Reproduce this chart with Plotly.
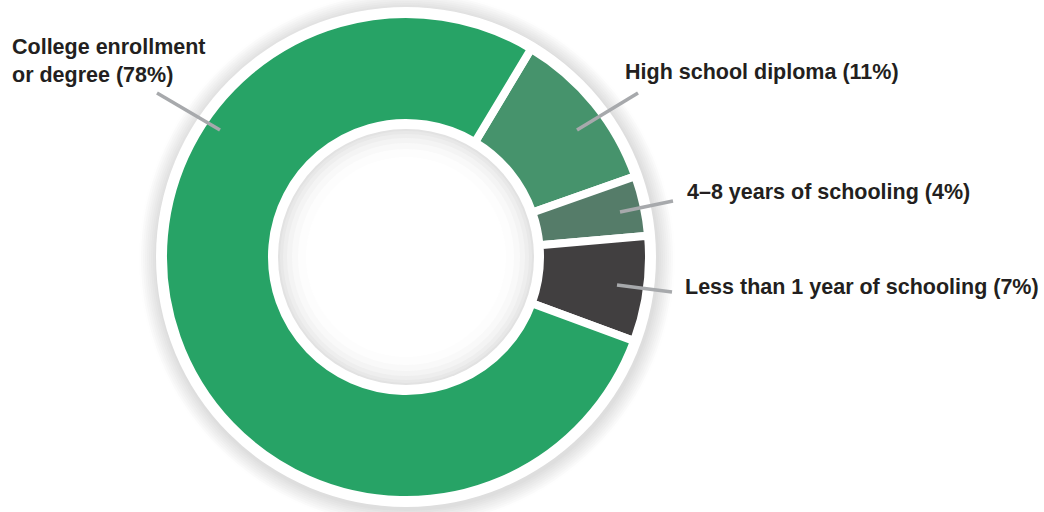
import plotly.graph_objects as go

W, H = 1044, 512

# ---- data ----
categories = ["High school diploma", "4\u20138 years of schooling",
              "Less than 1 year of schooling", "College enrollment or degree"]
values = [11, 4, 7, 78]
colors = ["#46936C", "#557C69", "#413F40", "#27A366"]
label_text = ["High school diploma (11%)", "4\u20138 years of schooling (4%)",
              "Less than 1 year of schooling (7%)", "College enrollment<br>or degree (78%)"]

# ---- layout helpers (pixel geometry) ----
CX, CY = 406, 257


def dom(r):
    return dict(x=[(CX - r) / W, (CX + r) / W],
                y=[1 - (CY + r) / H, 1 - (CY - r) / H])


def px(x, y):
    return x / W, 1 - y / H


fig = go.Figure()


def disk(r, c, dx=0, dy=0):
    fig.add_shape(type="circle", xref="paper", yref="paper", layer="below",
                  x0=(CX + dx - r) / W, x1=(CX + dx + r) / W,
                  y0=1 - (CY + dy + r) / H, y1=1 - (CY + dy - r) / H,
                  fillcolor=c, line=dict(width=0))


# outer soft shadow + white ring
shadow = [(268, 254), (266, 250), (264, 246), (262, 242), (260, 238), (258, 234),
          (256, 230), (254, 226), (252, 222)]
for r, g in shadow:
    disk(r, "rgb(%d,%d,%d)" % (g, g, g), 1, 2)
disk(250, "#ffffff")

# inner shaded disk
for r, g in [(128, 226), (126, 232), (123, 238), (119, 244), (114, 249), (108, 253), (100, 255)]:
    disk(r, "rgb(%d,%d,%d)" % (g, g, g))

# main donut
R = 243
fig.add_trace(go.Pie(
    labels=categories, values=values, sort=False, direction="clockwise",
    rotation=31, hole=134 / R,
    marker=dict(colors=colors, line=dict(color="#ffffff", width=8)),
    domain=dom(R), textinfo="none", showlegend=False,
))

# leader lines
leaders = [((638, 93), (577, 130)), ((673, 201), (620, 212)),
           ((672, 292), (617, 285)), ((157, 93), (220, 130))]
for (a, b) in leaders:
    x0, y0 = px(*a)
    x1, y1 = px(*b)
    fig.add_shape(type="line", xref="paper", yref="paper", x0=x0, y0=y0, x1=x1, y1=y1,
                  line=dict(color="#a7a9ac", width=3.5))

# labels
label_pos = [(623, 72), (685, 192), (683, 287), (10, 61)]
for t, (x, y) in zip(label_text, label_pos):
    ax_, ay_ = px(x, y)
    fig.add_annotation(text=t, x=ax_, y=ay_, xref="paper", yref="paper",
                       xanchor="left", yanchor="middle", align="left", showarrow=False,
                       font=dict(family="Liberation Sans, Arial", size=21.5, color="#231f20",
                                 weight="bold"))

fig.update_layout(width=W, height=H, margin=dict(l=0, r=0, t=0, b=0),
                  paper_bgcolor="#ffffff", plot_bgcolor="#ffffff")

fig.write_html("out.html")
